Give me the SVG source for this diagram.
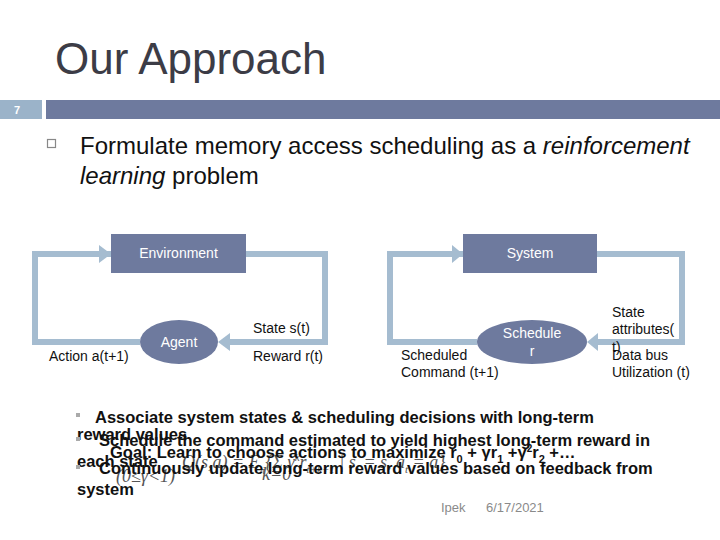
<svg xmlns="http://www.w3.org/2000/svg" width="720" height="540" viewBox="0 0 720 540">
<defs>
<style>
.sans{font-family:"Liberation Sans",Arial,sans-serif}
.title{font-size:44px;fill:#3c3c46}
.lbl{font-size:14px;fill:#111}
.wlbl{font-size:14px;fill:#fff}
.node{fill:#6e7a9e}
.loop{fill:none;stroke:#a5bcd0;stroke-width:6}
.head{fill:#a5bcd0}
.body{font-size:24px;fill:#111}
.b2{font-size:16.5px;font-weight:bold;fill:#111}
.frm{font-family:"Liberation Serif","Times New Roman",serif;font-style:italic;fill:#555;font-size:18px}
.foot{font-size:13px;fill:#8a8a8a}
</style>
</defs>
<rect width="720" height="540" fill="#fff"/>
<text class="sans title" x="55" y="74">Our Approach</text>
<rect x="0" y="100" width="42" height="19" fill="#9bb3c9"/>
<rect x="46" y="100" width="674" height="19" fill="#6e7a9e"/>
<text class="sans" x="14" y="114" font-size="11" font-weight="bold" fill="#fff">7</text>
<rect x="47.5" y="139.5" width="8" height="8" fill="none" stroke="#888" stroke-width="1.2"/>
<text class="sans body" x="80" y="154">Formulate memory access scheduling as a <tspan font-style="italic">reinforcement</tspan></text>
<text class="sans body" x="80" y="184"><tspan font-style="italic">learning</tspan> problem</text>

<g id="connectors">
<path class="loop" d="M111 254 H35 V342 H140"/>
<polygon class="head" points="99,245 111,254 99,263"/>
<path class="loop" d="M246 254 H325 V342 H230"/>
<polygon class="head" points="230,333 218,342 230,351"/>
<path class="loop" d="M463 254 H390 V342 H477"/>
<polygon class="head" points="452,245 463,254 452,263"/>
<path class="loop" d="M597 254 H682 V342 H598"/>
<polygon class="head" points="598,333 587,342 598,351"/>
</g>

<g id="environment">
<rect class="node" x="111" y="234" width="135" height="39"/>
<text class="sans wlbl" x="178.5" y="258" text-anchor="middle">Environment</text>
</g>
<g id="agent">
<ellipse class="node" cx="179" cy="342" rx="39" ry="22"/>
<text class="sans wlbl" x="179" y="347" text-anchor="middle">Agent</text>
</g>
<g id="system">
<rect class="node" x="463" y="234" width="134" height="39"/>
<text class="sans wlbl" x="530" y="258" text-anchor="middle">System</text>
</g>
<g id="scheduler">
<ellipse class="node" cx="532" cy="342" rx="55" ry="22"/>
<text class="sans wlbl" x="532" y="338" text-anchor="middle">Schedule</text>
<text class="sans wlbl" x="532" y="356" text-anchor="middle">r</text>
</g>

<g id="labels">
<text class="sans lbl" x="253" y="333">State s(t)</text>
<text class="sans lbl" x="253" y="361">Reward r(t)</text>
<text class="sans lbl" x="49" y="361">Action a(t+1)</text>
<text class="sans lbl" x="401" y="360">Scheduled</text>
<text class="sans lbl" x="401" y="377">Command (t+1)</text>
<text class="sans lbl" x="612" y="317">State</text>
<text class="sans lbl" x="612" y="334">attributes(</text>
<text class="sans lbl" x="612" y="352">t)</text>
<text class="sans lbl" x="612" y="360">Data bus</text>
<text class="sans lbl" x="612" y="377">Utilization (t)</text>
</g>

<g id="formula">
<text class="frm" x="182" y="468">Q(s,a) = E<tspan font-size="11" dy="6">π</tspan><tspan dy="-6">{Σ γ</tspan><tspan font-size="11" dy="-7">k</tspan><tspan dy="7">r</tspan><tspan font-size="11" dy="5">t+k+1</tspan><tspan dy="-5"> | s</tspan><tspan font-size="11" dy="5">t</tspan><tspan dy="-5"> = s, a</tspan><tspan font-size="11" dy="5">t</tspan><tspan dy="-5"> = a}</tspan></text>
<text class="frm" x="262" y="480" font-size="11">k=0</text>
<text class="frm" x="116" y="482" font-size="16" font-style="normal">(0≤γ&lt;1)</text>
</g>

<g id="bullets">
<rect x="76" y="413" width="4" height="4" fill="#aaa"/>
<text class="sans b2" x="95" y="423" font-size="16.3">Associate system states &amp; scheduling decisions with long-term</text>
<text class="sans b2" x="77" y="440">reward values</text>
<rect x="76" y="437" width="4" height="4" fill="#aaa"/>
<text class="sans b2" x="99" y="446">Schedule the command estimated to yield highest long-term reward in</text>
<text class="sans b2" x="110" y="458" font-size="17">Goal: Learn to choose actions to maximize r<tspan font-size="11" dy="5">0</tspan><tspan dy="-5"> + γr</tspan><tspan font-size="11" dy="5">1</tspan><tspan dy="-5"> +γ</tspan><tspan font-size="10" dy="-6">2</tspan><tspan dy="6">r</tspan><tspan font-size="11" dy="5">2</tspan><tspan dy="-5"> +…</tspan></text>
<text class="sans b2" x="77" y="467">each state</text>
<rect x="76" y="465" width="4" height="4" fill="#aaa"/>
<text class="sans b2" x="99" y="474">Continuously update long-term reward values based on feedback from</text>
<text class="sans b2" x="77" y="495">system</text>
</g>
<text class="sans foot" x="441" y="512">Ipek</text>
<text class="sans foot" x="486" y="512">6/17/2021</text>
</svg>
